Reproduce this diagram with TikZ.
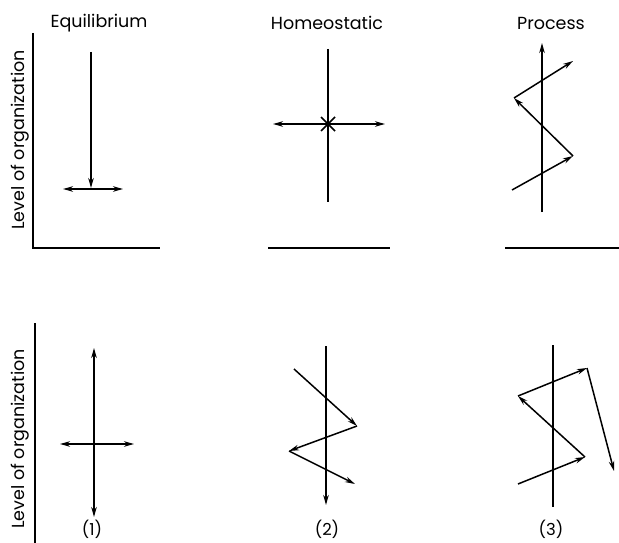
\documentclass[tikz,border=0pt]{standalone}
\usepackage{fontspec}
\setmainfont{Poppins}
\usetikzlibrary{arrows.meta}

\begin{document}
\begin{tikzpicture}[x=1pt, y=-1pt, >={Stealth[length=10pt,width=5.5pt]}, line width=1.5pt,
  title/.style={font=\fontsize{17.5}{20}\selectfont},
  axislabel/.style={font=\fontsize{17.5}{20}\selectfont, rotate=90},
  caption/.style={font=\fontsize{16.5}{19}\selectfont, inner sep=0pt},
  axis/.style={line width=1.6pt}]
\useasboundingbox (0,0) rectangle (619,543);
% titles and labels
\node[title] (eqtitle) at (99,23) {Equilibrium};
\node[title] (hotitle) at (327,23) {Homeostatic};
\node[title] (prtitle) at (551,23) {Process};
\node[axislabel] (lvtop) at (20,140) {Level of organization};
\node[axislabel] (lvbot) at (20,439) {Level of organization};
\node[caption] (cap1) at (92,529) {(1)};
\node[caption] (cap2) at (327,529) {(2)};
\node[caption] (cap3) at (551,529) {(3)};
% axes
\coordinate (ao) at (33,248);
\draw[axis] (33,33) coordinate (atop) -- (ao) -- (160,248) coordinate (aright);
\draw[axis] (268,248) coordinate (b2l) -- (390,248) coordinate (b2r);
\draw[axis] (505,248) coordinate (b3l) -- (619,248) coordinate (b3r);
\draw[axis] (35,323) coordinate (c1t) -- (35,543) coordinate (c1b);
% equilibrium, top
\coordinate (e1) at (91,52);
\coordinate (e2) at (91,188);
\coordinate (el) at (63,189);
\coordinate (er) at (123,189);
\draw[->] (e1) -- (e2);
\draw[<->] (el) -- (er);
% homeostatic, top
\coordinate (h1) at (328,49);
\coordinate (h2) at (328,202);
\coordinate (hc) at (328,124);
\coordinate (hl) at (273,124);
\coordinate (hr) at (385,124);
\draw (h1) -- (h2);
\draw[<->] (hl) -- (hr);
\draw (hc) ++(-7,-7) -- ++(14,14);
\draw (hc) ++(-7,7) -- ++(14,-14);
\fill (hc) circle (2.5);
% process, top
\coordinate (p0) at (542,212);
\coordinate (p1) at (542,43);
\coordinate (z0) at (512,190);
\coordinate (z1) at (573,156);
\coordinate (z2) at (514,98);
\coordinate (z3) at (573,61);
\draw[->] (p0) -- (p1);
\draw[->] (z0) -- (z1);
\draw[->] (z1) -- (z2);
\draw[->] (z2) -- (z3);
% (1), bottom
\coordinate (q1) at (94,348);
\coordinate (q2) at (94,517);
\coordinate (ql) at (60,444);
\coordinate (qr) at (134,444);
\draw[<->] (q1) -- (q2);
\draw[<->] (ql) -- (qr);
% (2), bottom
\coordinate (r1) at (326,346);
\coordinate (r2) at (326,505);
\coordinate (w0) at (294,369);
\coordinate (w1) at (357,426);
\coordinate (w2) at (289,451);
\coordinate (w3) at (355,484);
\draw[->] (r1) -- (r2);
\draw[->] (w0) -- (w1);
\draw[->] (w1) -- (w2);
\draw[->] (w2) -- (w3);
% (3), bottom
\coordinate (s1) at (553,345);
\coordinate (s2) at (553,507);
\coordinate (v0) at (518,484);
\coordinate (v1) at (585,457);
\coordinate (v2) at (518,396);
\coordinate (v3) at (587,368);
\coordinate (v4) at (614,471);
\draw (s1) -- (s2);
\draw[->] (v0) -- (v1);
\draw[->] (v1) -- (v2);
\draw[->] (v2) -- (v3);
\draw[->] (v3) -- (v4);
\end{tikzpicture}
\end{document}
